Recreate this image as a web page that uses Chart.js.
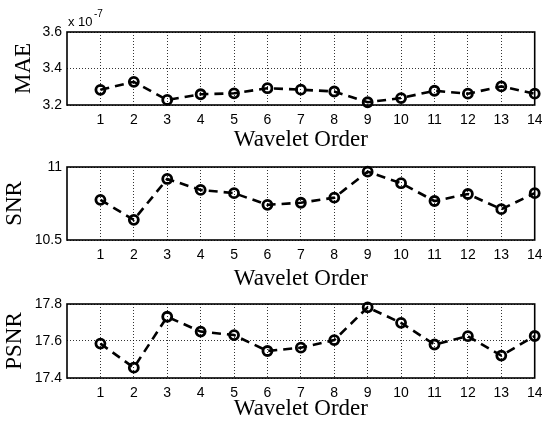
<!DOCTYPE html>
<html>
<head>
<meta charset="utf-8">
<script src="https://cdn.jsdelivr.net/npm/chart.js@4.4.0/dist/chart.umd.min.js"></script>
<style>
  body { margin: 0; background: #fff; }
  #wrap { position: relative; width: 542px; height: 425px; }
  #wrap canvas { position: absolute; left: 0; }
</style>
</head>
<body>
<div id="wrap">
  <canvas id="maeChart" width="542" height="156" style="top:0px"></canvas>
  <canvas id="snrChart" width="542" height="144" style="top:150px"></canvas>
  <canvas id="psnrChart" width="542" height="137" style="top:288px"></canvas>
</div>
<script>
// data
const waveletOrders = [1, 2, 3, 4, 5, 6, 7, 8, 9, 10, 11, 12, 13, 14];
const maeValues = [3.283, 3.327, 3.228, 3.259, 3.264, 3.292, 3.284, 3.274, 3.215, 3.238, 3.278, 3.262, 3.302, 3.262]; // x 10^-7
const snrValues = [10.775, 10.638, 10.918, 10.843, 10.821, 10.741, 10.755, 10.790, 10.968, 10.889, 10.767, 10.815, 10.711, 10.821];
const psnrValues = [17.586, 17.456, 17.731, 17.651, 17.632, 17.546, 17.564, 17.605, 17.782, 17.698, 17.581, 17.626, 17.521, 17.627];

const maeTicks = [3.2, 3.4, 3.6];
const snrTicks = [10.5, 11];
const psnrTicks = [17.4, 17.6, 17.8];

const serif = "'Liberation Serif', 'Times New Roman', serif";
const sans = "'Liberation Sans', Arial, sans-serif";

// black box round the plot area (matlab style)
const boxFrame = {
  id: 'boxFrame',
  beforeDatasetsDraw(chart) {
    const { ctx, chartArea: a } = chart;
    ctx.save();
    ctx.strokeStyle = '#000';
    ctx.lineWidth = 1.6;
    ctx.strokeRect(a.left, a.top, a.right - a.left, a.bottom - a.top);
    ctx.restore();
  }
};

// the "x 10^-7" multiplier above the MAE axis
const exponentLabel = {
  id: 'exponentLabel',
  afterDraw(chart) {
    const ctx = chart.ctx;
    ctx.save();
    ctx.fillStyle = '#000';
    ctx.textBaseline = 'alphabetic';
    ctx.font = '13px ' + sans;
    ctx.fillText('x 10', 68, 26);
    ctx.font = '10px ' + sans;
    ctx.fillText('-7', 94, 17);
    ctx.restore();
  }
};

function makeChart(canvasId, values, yTicks, yTitle, layout, extraPlugins) {
  const ctx = document.getElementById(canvasId).getContext('2d');
  return new Chart(ctx, {
    type: 'line',
    data: {
      datasets: [{
        data: waveletOrders.map((o, i) => ({ x: o, y: values[i] })),
        borderColor: '#000',
        borderWidth: 2.6,
        borderDash: [9, 6],
        pointRadius: 4.5,
        pointBorderWidth: 2.8,
        pointBorderColor: '#000',
        pointBackgroundColor: 'rgba(0,0,0,0)',
        tension: 0,
        clip: false
      }]
    },
    options: {
      responsive: false,
      animation: false,
      events: [],
      layout: { padding: { top: layout.top, left: 0, right: 6, bottom: 0 } },
      plugins: { legend: { display: false }, tooltip: { enabled: false } },
      scales: {
        x: {
          type: 'linear',
          min: 0,
          max: 14,
          afterBuildTicks: (scale) => { scale.ticks = waveletOrders.map(v => ({ value: v })); },
          afterFit: (scale) => {
            scale.height = layout.xHeight;
            scale.paddingRight = 0; // let "14" hang over the edge like the original
          },
          grid: { color: '#000', lineWidth: 0.8, drawTicks: false },
          border: { display: false, dash: [1, 2] },
          ticks: {
            color: '#000', font: { family: sans, size: 14 }, padding: 7,
            autoSkip: false, maxRotation: 0, callback: (v) => String(v)
          },
          title: {
            display: true, text: 'Wavelet Order', color: '#000',
            font: { family: serif, size: 23, lineHeight: 1 },
            padding: { top: 0, bottom: layout.titleBottom }
          }
        },
        y: {
          min: yTicks[0],
          max: yTicks[yTicks.length - 1],
          afterBuildTicks: (scale) => { scale.ticks = yTicks.map(v => ({ value: v })); },
          afterFit: (scale) => { scale.width = 67; },
          grid: { color: '#000', lineWidth: 0.8, drawTicks: false },
          border: { display: false, dash: [1, 2] },
          ticks: {
            color: '#000', font: { family: sans, size: 14 }, padding: 5,
            callback: (v) => String(Number(v.toFixed(1)))
          },
          title: {
            display: true, text: yTitle, color: '#000',
            font: { family: serif, size: 23, lineHeight: 1 },
            padding: { top: layout.yTitlePad, bottom: 0 }
          }
        }
      }
    },
    plugins: [boxFrame].concat(extraPlugins || [])
  });
}

makeChart('maeChart', maeValues, maeTicks, 'MAE', { top: 32, xHeight: 51, titleBottom: 4.5, yTitlePad: 12 }, [exponentLabel]);
makeChart('snrChart', snrValues, snrTicks, 'SNR', { top: 17, xHeight: 54, titleBottom: 3.5, yTitlePad: 3 });
makeChart('psnrChart', psnrValues, psnrTicks, 'PSNR', { top: 16, xHeight: 47, titleBottom: 4.5, yTitlePad: 3 });
</script>
</body>
</html>
